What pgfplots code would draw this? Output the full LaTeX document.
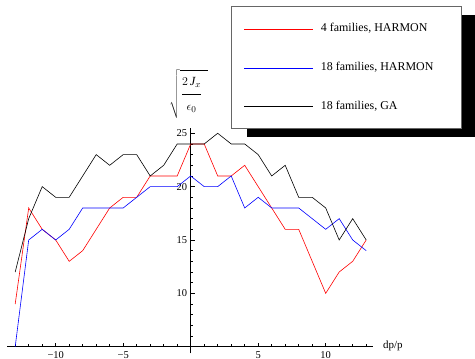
\documentclass[border=0pt]{standalone}
\usepackage{pgfplots}
\pgfplotsset{compat=1.18}
\usepackage{pgfplotstable}
\usepackage{fontspec}
\setmainfont{Liberation Serif}
\pgfplotstableread{
x red blue black
-13 9 5 12
-12 18 15 17
-11 16 16 20
-10 15 15 19
-9 13 16 19
-8 14 18 21
-7 16 18 23
-6 18 18 22
-5 19 18 23
-4 19 19 23
-3 21 20 21
-2 21 20 22
-1 21 20 24
0 24 21 24
1 24 20 24
2 21 20 25
3 21 21 24
4 22 18 24
5 20 19 23
6 18 18 21
7 16 18 22
8 16 18 19
9 13 17 19
10 10 16 18
11 12 17 15
12 13 15 17
13 15 14 15
}\datatable
\begin{document}
\begin{tikzpicture}
\useasboundingbox (-7.1bp,-5.7bp) rectangle (467.9bp,353.3bp);
\begin{axis}[
  at={(0,0)}, anchor=south west,
  x=13.5bp, y=10.67bp,
  xmin=-13.6, xmax=13.5,
  ymin=-0.62, ymax=20.5,
  axis lines=middle,
  axis line style={-, line width=0.6bp},
  xtick={-10,-5,5,10},
  xticklabels={−10,−5,5,10},
  minor xtick={-13,...,13},
  ytick={5,10,15,20},
  yticklabels={10,15,20,25},
  minor ytick={0,...,20},
  tick align=inside,
  major tick length=4bp,
  minor tick length=2.5bp,
  tick style={black, line width=0.5bp},
  ticklabel style={font=\fontsize{10.5}{12}\selectfont},
  xticklabel style={yshift=-1bp},
]
\addplot[color=red, line width=0.6bp] table[x=x, y expr=\thisrow{red}-5] {\datatable};
\addplot[color=blue, line width=0.6bp] table[x=x, y expr=\thisrow{blue}-5] {\datatable};
\addplot[color=black, line width=0.6bp] table[x=x, y expr=\thisrow{black}-5] {\datatable};
\end{axis}
% legend (drawn as a box with a drop shadow)
\fill[black] (239.6bp,216.3bp) rectangle (482.9bp,338.3bp);
\draw[black!60, fill=white, line width=0.6bp] (224.6bp,225.0bp) rectangle (454.6bp,346.6bp);
\begin{scope}[font=\fontsize{12}{14}\selectfont]
\draw[color=black, draw=black, line width=0.6bp] (236.9bp,246.6bp) -- (305.6bp,246.6bp);
\draw[color=blue, draw=blue, line width=0.6bp] (236.9bp,285.0bp) -- (305.6bp,285.0bp);
\draw[color=red, draw=red, line width=0.6bp] (236.9bp,324.0bp) -- (305.6bp,324.0bp);
\node[anchor=base west, inner sep=0pt, text=black] at (313.6bp,321.6bp) {4 families, HARMON};
\node[anchor=base west, inner sep=0pt, text=black] at (313.6bp,282.6bp) {18 families, HARMON};
\node[anchor=base west, inner sep=0pt, text=black] at (313.6bp,244.2bp) {18 families, GA};
\end{scope}
\node[font=\fontsize{12.5}{14}\selectfont, inner sep=0pt] at (181.75bp,259.3bp) {$\sqrt{\hspace{1bp}\displaystyle\frac{\rule{0pt}{12bp}2\,\textit{J}_x\rule[-7bp]{0pt}{0pt}}{\rule{0pt}{14.5bp}\epsilon_0\rule[-5bp]{0pt}{0pt}}\hspace{6bp}}$};
\node[anchor=base west, font=\fontsize{11}{13}\selectfont, inner sep=0pt] at (375.9bp,5.3bp) {dp/p};
\end{tikzpicture}
\end{document}
